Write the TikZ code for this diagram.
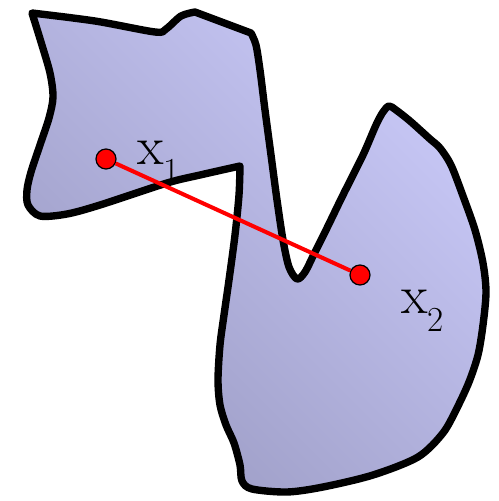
\documentclass[tikz,border=0pt]{standalone}
\usepackage{xcolor}
\usepackage{amsmath}
\usepackage{tikz}
\usetikzlibrary{positioning}
\definecolor{blobhi}{HTML}{C8C8F7}
\definecolor{bloblo}{HTML}{9C9CC4}
\newcommand{\lowsub}[1]{\lower10.5pt\hbox{\fontsize{20}{24}\selectfont #1}}

\begin{document}
\begin{tikzpicture}[x=0.02cm, y=-0.02cm,
  pt/.style={circle, draw=black, line width=0.7pt, fill=red, minimum size=0.4cm, inner sep=0pt},
  lbl/.style={font=\fontsize{31}{37}\selectfont, inner sep=0pt, anchor=base west}]
\useasboundingbox (0,0) rectangle (498,501);

% Region
\draw[line width=4.2pt, line join=round, top color=blobhi, bottom color=bloblo, shading angle=-45]
  plot[smooth] coordinates {(32,13) (95,21) (155,32) (166,29) (181,16) (195,12)} -- (251,33)
  -- plot[smooth] coordinates {(251,33) (256,45) (260,70) (265,110) (271,155) (277,200) (283,240) (289,267) (297,279) (305,272) (315,252) (327,228) (343,195) (363,155) (376,125) (383,112) (389,106) (396,110) (410,121) (430,139) (440,148) (451,165) (463,196) (475,230) (483,263) (486,292) (483,325) (478,355) (469,382) (457,408) (443,433) (418,457) (373,475) (323,487) (287,492) (252,489) (242,481) (240,465) (234,443) (226,425) (220,405) (218,380) (220,345) (224,315) (229,280) (235,235) (239,195) (240,166)}
  -- plot[smooth] coordinates {(240,166) (200,175) (167,183) (100,205) (67,214) (40,216) (28,205) (27,190) (31,172) (40,145) (49,118) (53,97) (50,73) (41,42) (32,13)}
  -- cycle;

% Points
\node[pt] (p1) at (106,159) {};
\node[pt] (p2) at (360,275) {};
\draw[red, line width=2.3pt] (p1) -- (p2);

% Labels
\node[lbl] (l1) at (137,164) {x\lowsub{1}};
\node[lbl] (l2) at (401,313) {x\lowsub{2}};
\end{tikzpicture}
\end{document}
